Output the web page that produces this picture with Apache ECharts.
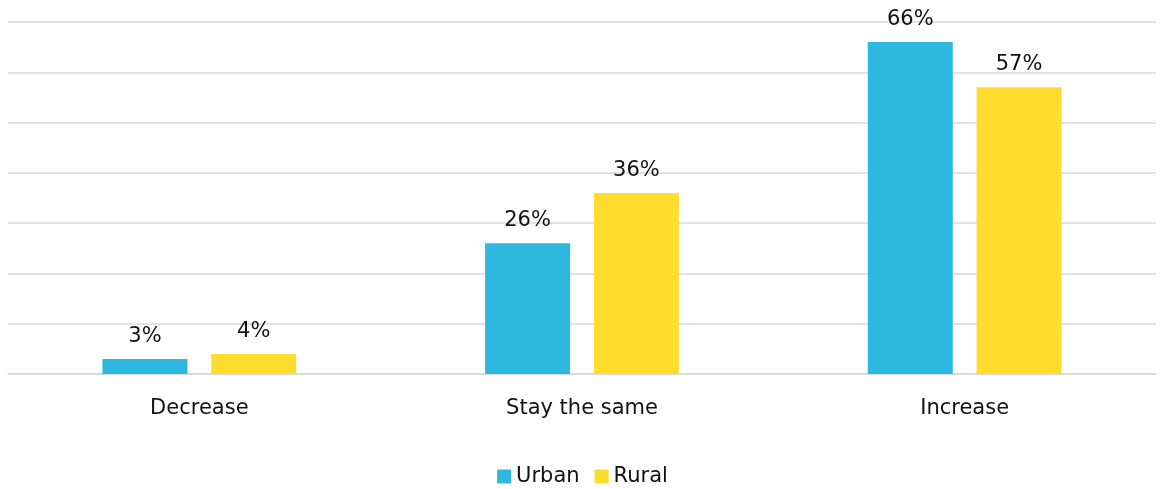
<!DOCTYPE html>
<html>
<head>
<meta charset="utf-8">
<script src="https://cdn.jsdelivr.net/npm/echarts@6/dist/echarts.min.js"></script>
<style>
  html, body { margin: 0; padding: 0; background: #fff; }
  #chart { width: 1165px; height: 489px; }
</style>
</head>
<body>
<div id="chart"></div>
<script>
// Expected change, by area type (percent of respondents)
const categories = ['Decrease', 'Stay the same', 'Increase'];
const urban = [3, 26, 66];
const rural = [4, 36, 57];

const FONT = '"DejaVu Sans", Verdana, sans-serif';
const labelStyle = {
  show: true,
  position: 'top',
  distance: 12,
  formatter: '{c}%',
  color: '#111',
  fontFamily: FONT,
  fontSize: 21
};

const chart = echarts.init(document.getElementById('chart'));
chart.setOption({
  animation: false,
  textStyle: { fontFamily: FONT },
  grid: { left: 8, right: 9, top: 22, bottom: 115, containLabel: false },
  legend: {
    bottom: -3,
    left: 'center',
    itemWidth: 14,
    itemHeight: 14,
    itemGap: 15,
    icon: 'rect',
    textStyle: { fontFamily: FONT, fontSize: 21, color: '#111' },
    data: ['Urban', 'Rural']
  },
  xAxis: {
    type: 'category',
    data: categories,
    axisLine: { lineStyle: { color: '#d9d9d9', width: 1.5 } },
    axisTick: { show: false },
    axisLabel: { color: '#111', fontFamily: FONT, fontSize: 21, margin: 24 }
  },
  yAxis: {
    type: 'value',
    min: 0,
    max: 70,
    interval: 10,
    axisLine: { show: false },
    axisTick: { show: false },
    axisLabel: { show: false },
    splitLine: { lineStyle: { color: '#d9d9d9', width: 1.5 } }
  },
  series: [
    {
      name: 'Urban',
      type: 'bar',
      data: urban,
      barWidth: 85,
      barGap: '28%',
      itemStyle: { color: '#2DB8E0' },
      label: labelStyle
    },
    {
      name: 'Rural',
      type: 'bar',
      data: rural,
      barWidth: 85,
      itemStyle: { color: '#FFDD2F' },
      label: labelStyle
    }
  ]
});
</script>
</body>
</html>
